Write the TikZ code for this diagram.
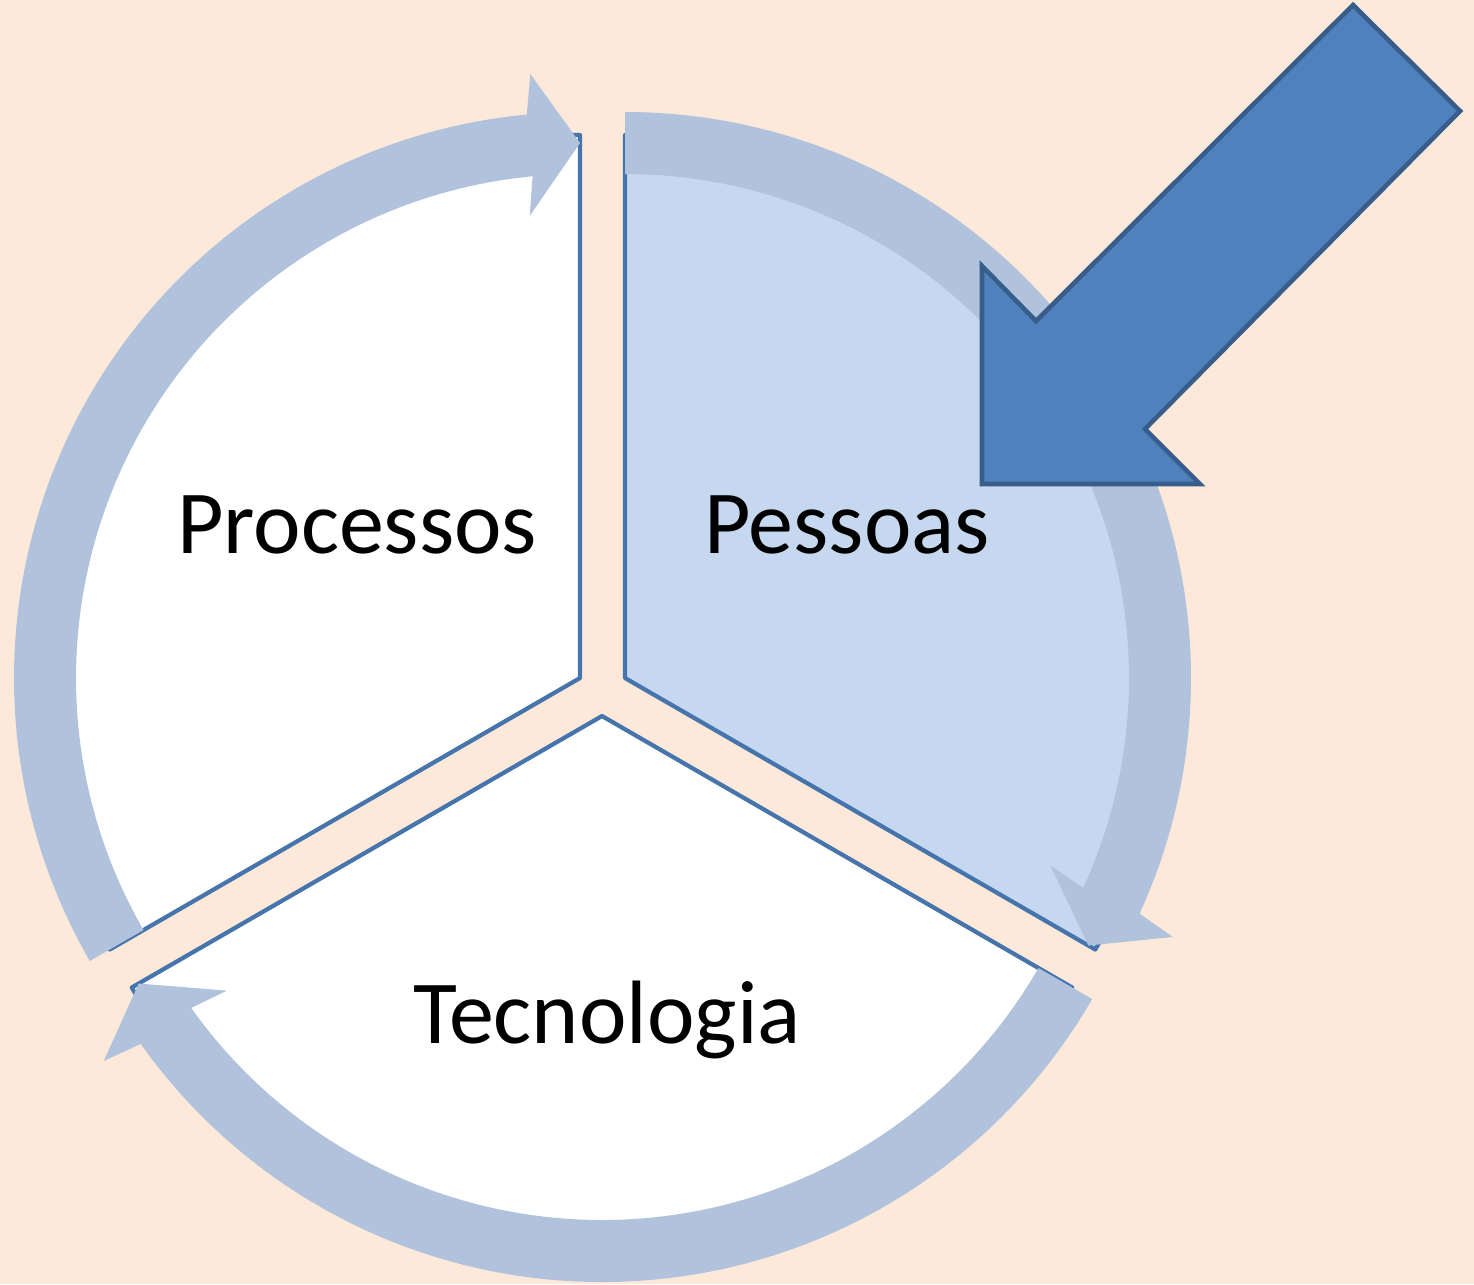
\documentclass[tikz,border=0pt]{standalone}
\usepackage{fontspec}
\setmainfont{Carlito}
\definecolor{bgpeach}{HTML}{FDE9DA}
\definecolor{ringblue}{HTML}{B1C2DD}
\definecolor{edgeblue}{HTML}{4674AC}
\definecolor{paleblue}{HTML}{C6D8EF}
\definecolor{bigblue}{HTML}{4F81BD}
\definecolor{bigedge}{HTML}{385D8A}
\begin{document}
\begin{tikzpicture}[x=0.01cm,y=0.01cm,
	sector/.style={draw=edgeblue,line width=1.2pt,line join=round},
	txt/.style={font=\fontsize{25.6}{30}\selectfont,anchor=base}]
	\fill[bgpeach] (0,0) rectangle (1474,-1284);
	\useasboundingbox (0,0) rectangle (1474,-1284);
	% the three segments
	\foreach \vx/\vy/\s/\col in {580/678/90/white,625/678/-30/paleblue,602/716/-150/white}
		\draw[sector,fill=\col] (\vx,-\vy) -- ++(\s:543) arc[start angle=\s,end angle=\s+120,radius=543] -- cycle;
	% circular arrows
	\foreach \vx/\vy/\s in {580/678/90,625/678/-30,602/716/-150}
	{
		\fill[ringblue,shift={(\vx,-\vy)}] (\s+120:566) arc[start angle=\s+120,end angle=\s+5.4,radius=566]
			-- (\s+4.7:606) -- (\s:535) -- (\s+6.2:465) -- (\s+5.4:504)
			arc[start angle=\s+5.4,end angle=\s+120,radius=504] -- cycle;
	}
	\node[txt] (proc) at (357,-553) {Processos};
	\node[txt] (pess) at (847,-553) {Pessoas};
	\node[txt] (tec) at (607,-1043) {Tecnologia};
	% big arrow
	\draw[fill=bigblue,draw=bigedge,line width=1.3pt,line join=miter]
		(982,-266) -- (1036,-321) -- (1353,-5) -- (1460,-111) -- (1145,-429) -- (1200,-484) -- (982,-484) -- cycle;
\end{tikzpicture}
\end{document}
